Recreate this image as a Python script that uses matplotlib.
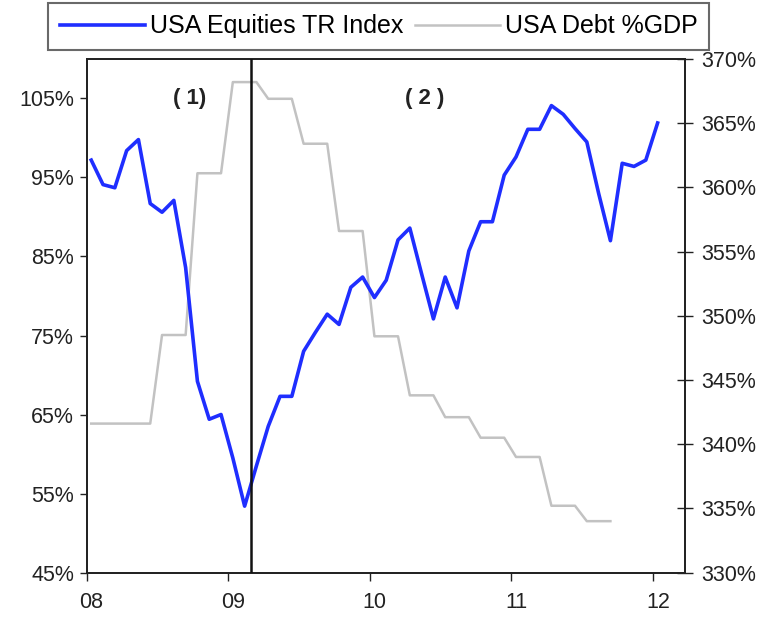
import matplotlib

matplotlib.use("Agg")

import matplotlib.pyplot as plt  # noqa: E402
import matplotlib.transforms as mtransforms  # noqa: E402
import numpy as np  # noqa: E402
from matplotlib.ticker import FuncFormatter  # noqa: E402

plt.rcParams["font.family"] = ["Liberation Sans", "DejaVu Sans"]

# monthly observations, Jan 2008 .. Jan 2012
equities = [97.2, 94.1, 93.7, 98.4, 99.8, 91.7, 90.6, 92.1, 83.6, 69.2,
            64.4, 65.0, 59.5, 53.4, 58.5, 63.5, 67.3, 67.3, 73.0, 75.4,
            77.7, 76.4, 81.1, 82.4, 79.8, 82.0, 87.1, 88.6, 82.8, 77.1,
            82.4, 78.5, 85.7, 89.4, 89.4, 95.3, 97.6, 101.1, 101.1, 104.1,
            103.0, 101.2, 99.5, 93.0, 87.0, 96.8, 96.4, 97.2, 101.9]
debt_gdp = [341.6, 341.6, 341.6, 341.6, 341.6, 341.6, 348.5, 348.5, 348.5,
            361.1, 361.1, 361.1, 368.2, 368.2, 368.2, 366.9, 366.9, 366.9,
            363.4, 363.4, 363.4, 356.6, 356.6, 356.6, 348.4, 348.4, 348.4,
            343.8, 343.8, 343.8, 342.1, 342.1, 342.1, 340.5, 340.5, 340.5,
            339.0, 339.0, 339.0, 335.2, 335.2, 335.2, 334.0, 334.0, 334.0]
year_ticks = [2008, 2009, 2010, 2011, 2012]
year_labels = ["08", "09", "10", "11", "12"]
left_ticks = [45, 55, 65, 75, 85, 95, 105]
right_ticks = [330, 335, 340, 345, 350, 355, 360, 365, 370]
split_date = 2009.16
phase_labels = ["( 1)", "( 2 )"]
phase_x = [2008.73, 2010.39]

x_eq = 2008 + (np.arange(len(equities)) + 0.4) / 12
x_debt = 2008 + (np.arange(len(debt_gdp)) + 0.4) / 12

fig = plt.figure(figsize=(7.78, 6.17), dpi=100)
ax = fig.add_axes([0.1112, 0.0721, 0.7693, 0.8323])
ax2 = ax.twinx()

# equities axis drawn above the debt axis
ax.set_zorder(ax2.get_zorder() + 1)
ax.patch.set_visible(False)

(l_eq,) = ax.plot(x_eq, equities, color="#1f2eff", lw=2.6,
                  label="USA Equities TR Index", zorder=2)
(l_debt,) = ax2.plot(x_debt, debt_gdp, color="#c2c2c2", lw=1.8,
                     label="USA Debt %GDP")
ax.axvline(split_date, color="#111111", lw=1.8, zorder=3)

for lab, xp in zip(phase_labels, phase_x):
    ax.text(xp, 105, lab, ha="center", va="center", fontsize=16,
            fontweight="bold", color="#222222")

ax.set_xlim(2008, 2012.227)
ax.set_ylim(45, 110)
ax2.set_ylim(330, 370)

ax.set_xticks(year_ticks)
ax.set_xticklabels(year_labels)
ax.set_yticks(left_ticks)
ax2.set_yticks(right_ticks)
pct = FuncFormatter(lambda v, p: f"{v:.0f}%")
ax.yaxis.set_major_formatter(pct)
ax2.yaxis.set_major_formatter(pct)

ax.tick_params(axis="y", direction="out", length=5, width=1, pad=4,
               labelsize=15.5, colors="#222222")
ax.tick_params(axis="x", direction="out", length=6, width=1, pad=8,
               labelsize=15.5, colors="#222222")
ax2.tick_params(axis="y", direction="inout", length=11, width=1, pad=6,
                labelsize=15.5, colors="#222222")

# nudge year labels a bit to the right of their ticks
shift = mtransforms.ScaledTranslation(0.05, 0, fig.dpi_scale_trans)
for t in ax.get_xticklabels():
    t.set_transform(t.get_transform() + shift)

for a in (ax, ax2):
    for s in a.spines.values():
        s.set_linewidth(1.3)
        s.set_color("#222222")

leg = fig.legend(handles=[l_eq, l_debt], loc="upper center",
                 bbox_to_anchor=(0.487, 0.995), borderaxespad=0, ncol=2,
                 frameon=True, fancybox=False, edgecolor="#444444",
                 fontsize=18, handlelength=3.4, handletextpad=0.2,
                 columnspacing=0.5, borderpad=0.45)
leg.get_frame().set_linewidth(1.5)

fig.savefig("out.png", dpi=100, facecolor="white")
plt.close(fig)
